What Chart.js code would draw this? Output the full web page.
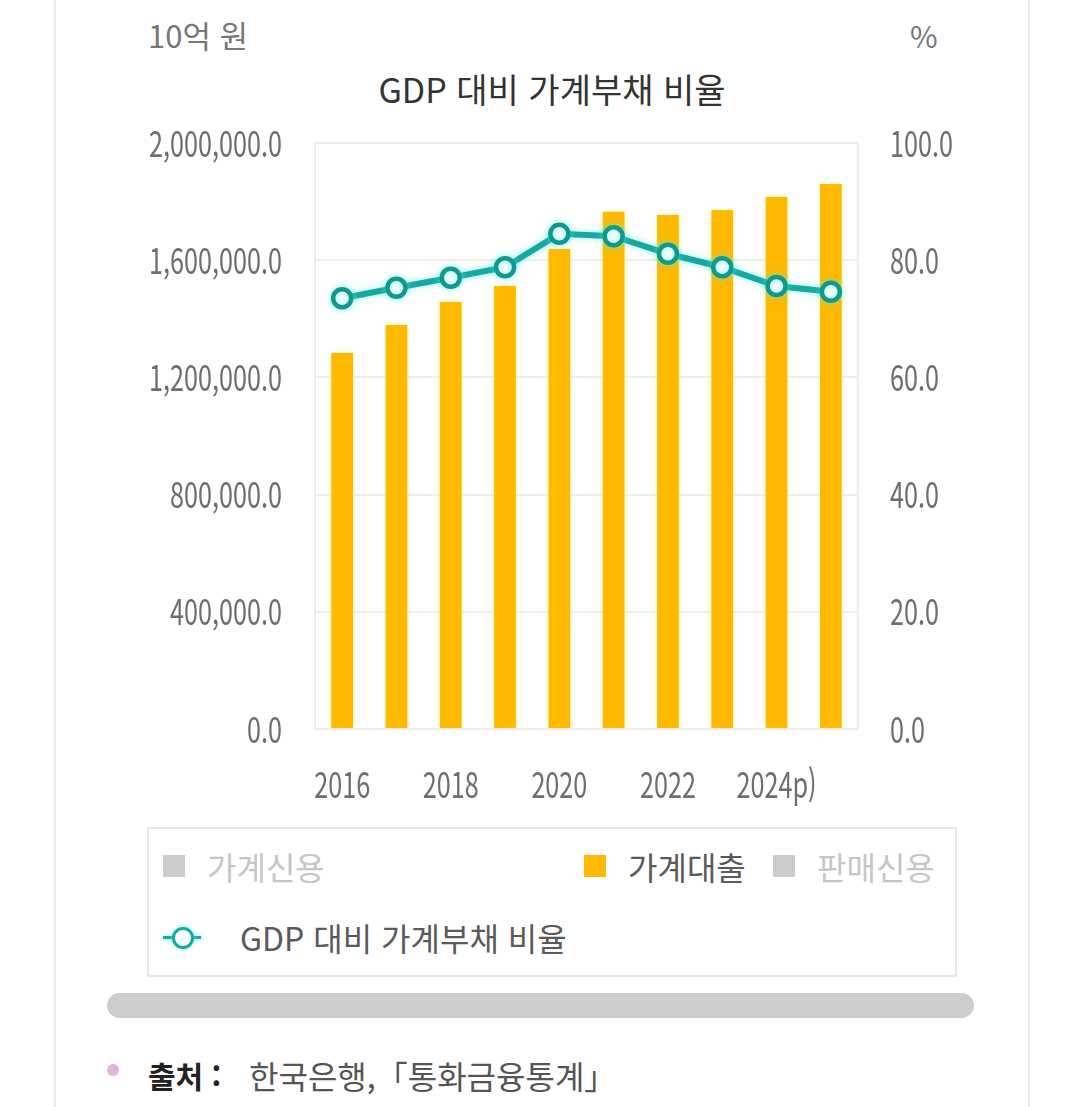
<!DOCTYPE html>
<html lang="ko">
<head>
<meta charset="utf-8">
<title>GDP 대비 가계부채 비율</title>
<script src="https://cdn.jsdelivr.net/npm/chart.js@4.4.1/dist/chart.umd.min.js"></script>
<style>
  html, body { margin: 0; padding: 0; background: #fff; }
  body {
    width: 1080px; height: 1107px; position: relative; overflow: hidden;
    font-family: "Noto Sans CJK KR", "Noto Sans", sans-serif;
  }
  .card {
    position: absolute; left: 54px; top: 0; width: 972px; height: 1107px;
    border-left: 2px solid #e8e8e8; border-right: 2px solid #e8e8e8;
  }
  .txt { position: absolute; white-space: nowrap; height: 40px; line-height: 40px; }
  #chart-wrap { position: absolute; left: 0; top: 0; width: 1080px; height: 810px; }
  .legend-box {
    position: absolute; left: 147px; top: 827px; width: 806px; height: 146px;
    border: 2px solid #e8e8e8;
  }
  .swatch { position: absolute; width: 22px; height: 22px; }
  .scrollbar {
    position: absolute; left: 107px; top: 993px; width: 867px; height: 25px;
    border-radius: 13px; background: #cdcdcd;
  }
  .dot {
    position: absolute; left: 107px; top: 1064px; width: 12px; height: 12px;
    border-radius: 50%; background: #dfb4df;
  }
</style>
</head>
<body>
<div class="card"></div>

<div class="txt" style="left:148px; top:15px; font-size:31px; color:#777;">10억 원</div>
<div class="txt" style="left:910px; top:15px; font-size:30px; color:#777;">%</div>
<div class="txt" id="chart-title" style="left:0; width:1104px; text-align:center; top:69px; font-size:34px; color:#333;"></div>

<div id="chart-wrap"><canvas id="debt-chart" width="1080" height="810"></canvas></div>

<div class="legend-box"></div>
<div id="legend"></div>

<div class="scrollbar"></div>
<div class="dot"></div>
<div class="txt" style="left:148px; top:1055px; font-size:30px; font-weight:700; color:#222;">출처 :</div>
<div class="txt" style="left:249px; top:1055px; font-size:32px; color:#555;">한국은행,「통화금융통계」</div>

<script>
// data
const chartTitle = 'GDP 대비 가계부채 비율';
const years = ['2016', '2017', '2018', '2019', '2020', '2021', '2022', '2023', '2024p)', '2025p)'];
const householdLoans = [1283000, 1379000, 1457000, 1512000, 1638000, 1765000, 1754000, 1771000, 1816000, 1860000];
const debtToGdp = [73.5, 75.3, 77.0, 78.8, 84.5, 84.1, 81.1, 78.8, 75.6, 74.6];
const amountMax = 2000000, amountStep = 400000;
const ratioMax = 100, ratioStep = 20;

// legend entries: name, kind, shown in the chart or greyed out
const legendNames = ['가계신용', '가계대출', '판매신용', 'GDP 대비 가계부채 비율'];
const legendKinds = ['box', 'box', 'box', 'line'];
const legendActive = [false, true, false, true];

const BAR_COLOR = '#ffb900';
const LINE_COLOR = '#14aaa1';
const POINT_BORDER = '#0e9a8c';
const TICK_COLOR = '#6e6e6e';
const GRID_COLOR = '#eeeeee';
const TEXT_SQUEEZE = 0.7;   // digits in the picture are drawn narrow

document.getElementById('chart-title').textContent = chartTitle;

// squeeze canvas text horizontally around its anchor
const condensePlugin = {
    id: 'condense',
    beforeDraw(chart) {
        const ctx = chart.ctx;
        if (ctx._condensed) return;
        const fill = ctx.fillText;
        ctx.fillText = function (text, x, y) {
            this.save();
            this.translate(x, y);
            this.scale(TEXT_SQUEEZE, 1);
            fill.call(this, text, 0, 0);
            this.restore();
        };
        ctx._condensed = true;
    }
};

// soft glow round the bars and the line
const glowPlugin = {
    id: 'glow',
    beforeDatasetDraw(chart, args) {
        const ctx = chart.ctx;
        ctx.save();
        if (args.meta.type === 'line') {
            ctx.shadowColor = 'rgba(90, 235, 230, 0.6)';
            ctx.shadowBlur = 7;
        } else {
            ctx.shadowColor = 'rgba(255, 235, 90, 0.6)';
            ctx.shadowBlur = 4;
        }
    },
    afterDatasetDraw(chart) {
        chart.ctx.restore();
    }
};

const tickFont = { family: 'Noto Sans CJK KR', size: 36 };

const ctx = document.getElementById('debt-chart');
const chart = new Chart(ctx, {
    type: 'bar',
    data: {
        labels: years,
        datasets: [{
            type: 'line',
            label: legendNames[3],
            data: debtToGdp,
            yAxisID: 'yRatio',
            order: 0,
            borderColor: LINE_COLOR,
            borderWidth: 6,
            tension: 0,
            pointRadius: 9,
            pointBorderWidth: 4.5,
            pointBackgroundColor: '#ffffff',
            pointBorderColor: POINT_BORDER
        }, {
            label: legendNames[1],
            data: householdLoans,
            yAxisID: 'yAmount',
            order: 1,
            backgroundColor: BAR_COLOR,
            barPercentage: 0.4,
            categoryPercentage: 1
        }]
    },
    options: {
        responsive: false,
        animation: false,
        layout: { padding: { top: 143, left: 0, right: 0, bottom: 0 } },
        plugins: {
            legend: { display: false },
            tooltip: { enabled: false },
            title: { display: false }
        },
        scales: {
            x: {
                grid: { display: false, drawTicks: false },
                border: { display: false },
                ticks: {
                    autoSkip: false,
                    maxRotation: 0,
                    minRotation: 0,
                    padding: 34,
                    color: TICK_COLOR,
                    font: tickFont,
                    callback: function (value, index) {
                        return index % 2 === 0 ? this.getLabelForValue(value) : '';
                    }
                },
                afterFit(scale) { scale.height = 81; }
            },
            yAmount: {
                position: 'left',
                min: 0,
                max: amountMax,
                ticks: {
                    stepSize: amountStep,
                    padding: 33,
                    color: TICK_COLOR,
                    font: tickFont,
                    callback: v => v.toLocaleString('en-US', { minimumFractionDigits: 1, maximumFractionDigits: 1 })
                },
                grid: { color: GRID_COLOR, lineWidth: 2, drawTicks: false },
                border: { display: true, color: GRID_COLOR, width: 2 },
                afterFit(scale) { scale.width = 315; }
            },
            yRatio: {
                position: 'right',
                min: 0,
                max: ratioMax,
                ticks: {
                    stepSize: ratioStep,
                    padding: 32,
                    color: TICK_COLOR,
                    font: tickFont,
                    callback: v => v.toFixed(1)
                },
                grid: { display: false, drawTicks: false },
                border: { display: true, color: GRID_COLOR, width: 2 },
                afterFit(scale) { scale.width = 222; }
            }
        }
    },
    plugins: [condensePlugin, glowPlugin]
});

// html legend, laid out like the reference box
const legendSpots = [[163, 866], [584, 866], [773, 866], [163, 937]];
const legend = document.getElementById('legend');
legendNames.forEach((name, i) => {
    const [x, y] = legendSpots[i];
    const on = legendActive[i];
    let textX;
    if (legendKinds[i] === 'box') {
        const sw = document.createElement('div');
        sw.className = 'swatch';
        sw.style.left = x + 'px';
        sw.style.top = (y - 11) + 'px';
        sw.style.background = on ? BAR_COLOR : '#cccccc';
        legend.appendChild(sw);
        textX = x + 44;
    } else {
        const mark = document.createElement('div');
        mark.style.cssText = 'position:absolute; left:' + x + 'px; top:' + (y - 1) + 'px; width:38px; height:3px; background:' + LINE_COLOR + '; box-shadow:0 0 4px rgba(90,235,230,0.8);';
        legend.appendChild(mark);
        const ring = document.createElement('div');
        ring.style.cssText = 'position:absolute; left:' + (x + 9) + 'px; top:' + (y - 10) + 'px; width:16px; height:16px; border:3px solid ' + LINE_COLOR + '; border-radius:50%; background:#fff; box-shadow:0 0 4px rgba(90,235,230,0.8);';
        legend.appendChild(ring);
        textX = x + 77;
    }
    const label = document.createElement('div');
    label.className = 'txt';
    label.textContent = name;
    label.style.left = textX + 'px';
    label.style.top = (y - 20) + 'px';
    label.style.fontSize = (legendKinds[i] === 'line' ? 32 : 32) + 'px';
    label.style.color = on ? '#5a5a5a' : '#c6c6c6';
    legend.appendChild(label);
});
</script>
</body>
</html>
